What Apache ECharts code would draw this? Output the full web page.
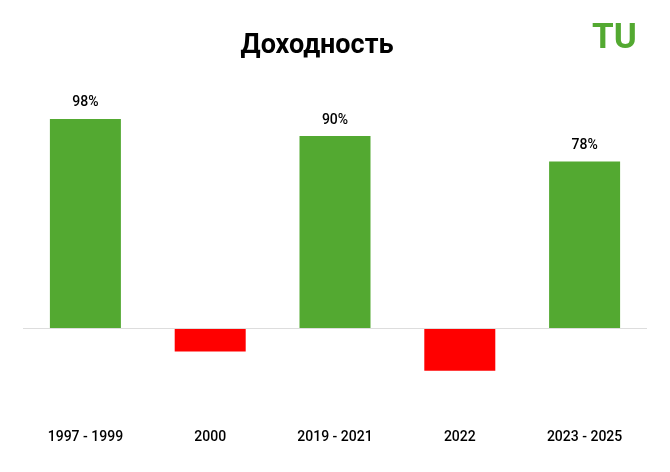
<!DOCTYPE html>
<html>
<head>
<meta charset="utf-8">
<script src="https://cdn.jsdelivr.net/npm/echarts@6/dist/echarts.min.js"></script>
<style>html,body{margin:0;padding:0;background:#fff}#chart{width:670px;height:472px}</style>
</head>
<body>
<div id="chart"></div>
<script>
const categories = ['1997 - 1999', '2000', '2019 - 2021', '2022', '2023 - 2025'];
const values = [98, -11, 90, -20, 78];
const green = '#53a931';
const red = '#ff0000';

const chart = echarts.init(document.getElementById('chart'));
chart.setOption({
    animation: false,
    title: {
        text: 'Доходность',
        left: 312,
        top: 28,
        textAlign: 'center',
        textStyle: { fontFamily: 'Roboto', fontSize: 27, fontWeight: 'bold', color: '#000' }
    },
    graphic: [{
        type: 'text',
        left: 592,
        top: 22,
        style: { text: 'TU', font: 'bold 35px Roboto', fill: green }
    }],
    grid: { left: 23, right: 23, top: 114.7, bottom: 58.7 },
    xAxis: {
        type: 'category',
        data: categories,
        axisLine: { show: false, onZero: false },
        axisTick: { show: false },
        axisLabel: { margin: 17, fontFamily: 'Roboto', fontSize: 14, fontWeight: 500, color: '#000' }
    },
    yAxis: {
        type: 'value',
        min: -40,
        max: 100,
        show: false,
        splitLine: { show: false }
    },
    series: [{
        type: 'bar',
        barWidth: 71,
        data: values.map(v => ({
            value: v,
            itemStyle: { color: v >= 0 ? green : red },
            label: { show: v >= 0 }
        })),
        label: {
            position: 'top',
            distance: 9,
            formatter: '{c}%',
            fontFamily: 'Roboto',
            fontSize: 14,
            fontWeight: 500,
            color: '#000'
        },
        markLine: {
            silent: true,
            symbol: 'none',
            label: { show: false },
            lineStyle: { color: '#dddddd', type: 'solid', width: 1 },
            data: [{ yAxis: 0 }]
        }
    }]
});
</script>
</body>
</html>
